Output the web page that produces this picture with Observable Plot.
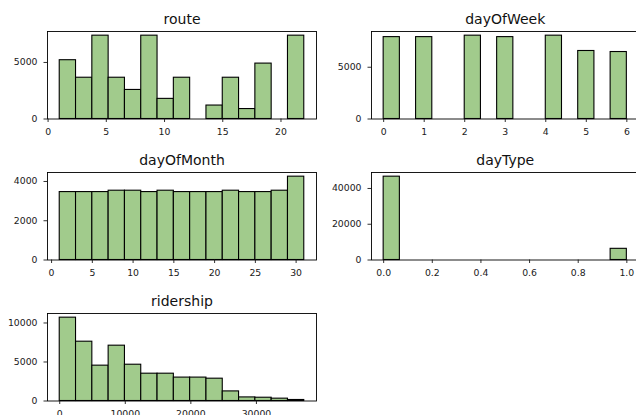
<!DOCTYPE html>
<html><head><meta charset="utf-8">
<script src="https://cdn.jsdelivr.net/npm/d3@7"></script>
<script src="https://cdn.jsdelivr.net/npm/@observablehq/plot@0.6"></script>
<style>
html,body{margin:0;padding:0;background:#fff;}
#chart{position:relative;width:636px;height:415px;overflow:hidden;background:#fff;}
#chart svg{position:absolute;}
</style></head><body><div id="chart"></div>
<script>
// ---- data (15 bins per histogram) ----
const routeCounts = [5200, 3650, 7370, 3650, 2570, 7370, 1780, 3650, 0, 1190, 3650, 880, 4900, 0, 7370];
const routeRange = [1, 22];
const routeXTicks = [0, 5, 10, 15, 20];
const routeYTicks = [0, 5000];

const dayOfWeekCounts = [7910, 0, 7910, 0, 0, 8050, 0, 7910, 0, 0, 8050, 0, 6570, 0, 6470];
const dayOfWeekRange = [0, 6];
const dayOfWeekXTicks = [0, 1, 2, 3, 4, 5, 6];
const dayOfWeekYTicks = [0, 5000];

const dayOfMonthCounts = [3460, 3460, 3460, 3530, 3530, 3460, 3530, 3460, 3460, 3460, 3530, 3460, 3460, 3530, 4245];
const dayOfMonthRange = [1, 31];
const dayOfMonthXTicks = [0, 5, 10, 15, 20, 25, 30];
const dayOfMonthYTicks = [0, 2000, 4000];

const dayTypeCounts = [46600, 0, 0, 0, 0, 0, 0, 0, 0, 0, 0, 0, 0, 0, 6250];
const dayTypeRange = [0, 1];
const dayTypeXTicks = [0, 0.2, 0.4, 0.6, 0.8, 1.0];
const dayTypeYTicks = [0, 20000, 40000];

const ridershipCounts = [10680, 7600, 4530, 7090, 4650, 3500, 3500, 3000, 3000, 2860, 1230, 460, 420, 300, 130];
const ridershipRange = [0, 37300];
const ridershipXTicks = [0, 10000, 20000, 30000];
const ridershipYTicks = [0, 5000, 10000];

const titles = ["route", "dayOfWeek", "dayOfMonth", "dayType", "ridership"];

// ---- drawing ----
const FILL = "#a1cb8c";
const root = document.getElementById("chart");

function panel(title, counts, range, xTicks, yTicks, xFormat, frameLeft, frameTop, frameW) {
  const mL = 47, mT = 31, mR = 6, mB = 26, frameH = 87.5;
  const n = counts.length;
  const step = (range[1] - range[0]) / n;
  const data = counts.map((c, i) => ({x1: range[0] + i * step, x2: range[0] + (i + 1) * step, y: c})).filter(d => d.y > 0);
  const span = range[1] - range[0];
  const ymax = d3.max(counts) * 1.05;
  const p = Plot.plot({
    width: mL + frameW + mR,
    height: mT + frameH + mB,
    marginLeft: mL, marginTop: mT, marginRight: mR, marginBottom: mB,
    style: {fontFamily: "DejaVu Sans", fontSize: "9.3px", background: "transparent", overflow: "visible", color: "#1a1a1a"},
    x: {domain: [range[0] - 0.05 * span, range[1] + 0.05 * span], label: null},
    y: {domain: [0, ymax], label: null},
    marks: [
      Plot.rectY(data, {x1: "x1", x2: "x2", y: "y", fill: FILL, stroke: "#000", strokeWidth: 1.1}),
      Plot.frame({stroke: "#000", strokeWidth: 0.9}),
      Plot.axisX({ticks: xTicks, tickSize: 3.5, tickPadding: 5.5, tickFormat: xFormat, label: null, strokeWidth: 0.9}),
      Plot.axisY({ticks: yTicks, tickSize: 3.5, tickPadding: 6.5, tickFormat: d => String(d), label: null, strokeWidth: 0.9}),
      Plot.text([title], {frameAnchor: "top", dy: -8, lineAnchor: "bottom", fontSize: 14, fill: "#111"})
    ]
  });
  p.style.left = (frameLeft - mL) + "px";
  p.style.top = (frameTop - mT) + "px";
  root.appendChild(p);
}

const plain = d => String(d);
panel(titles[0], routeCounts, routeRange, routeXTicks, routeYTicks, plain, 47, 31, 269);
panel(titles[1], dayOfWeekCounts, dayOfWeekRange, dayOfWeekXTicks, dayOfWeekYTicks, plain, 370.5, 31, 267.5);
panel(titles[2], dayOfMonthCounts, dayOfMonthRange, dayOfMonthXTicks, dayOfMonthYTicks, plain, 47, 172, 269);
panel(titles[3], dayTypeCounts, dayTypeRange, dayTypeXTicks, dayTypeYTicks, d => d.toFixed(1), 370.5, 172, 267.5);
panel(titles[4], ridershipCounts, ridershipRange, ridershipXTicks, ridershipYTicks, plain, 47, 313.3, 269);
</script>
</body></html>
